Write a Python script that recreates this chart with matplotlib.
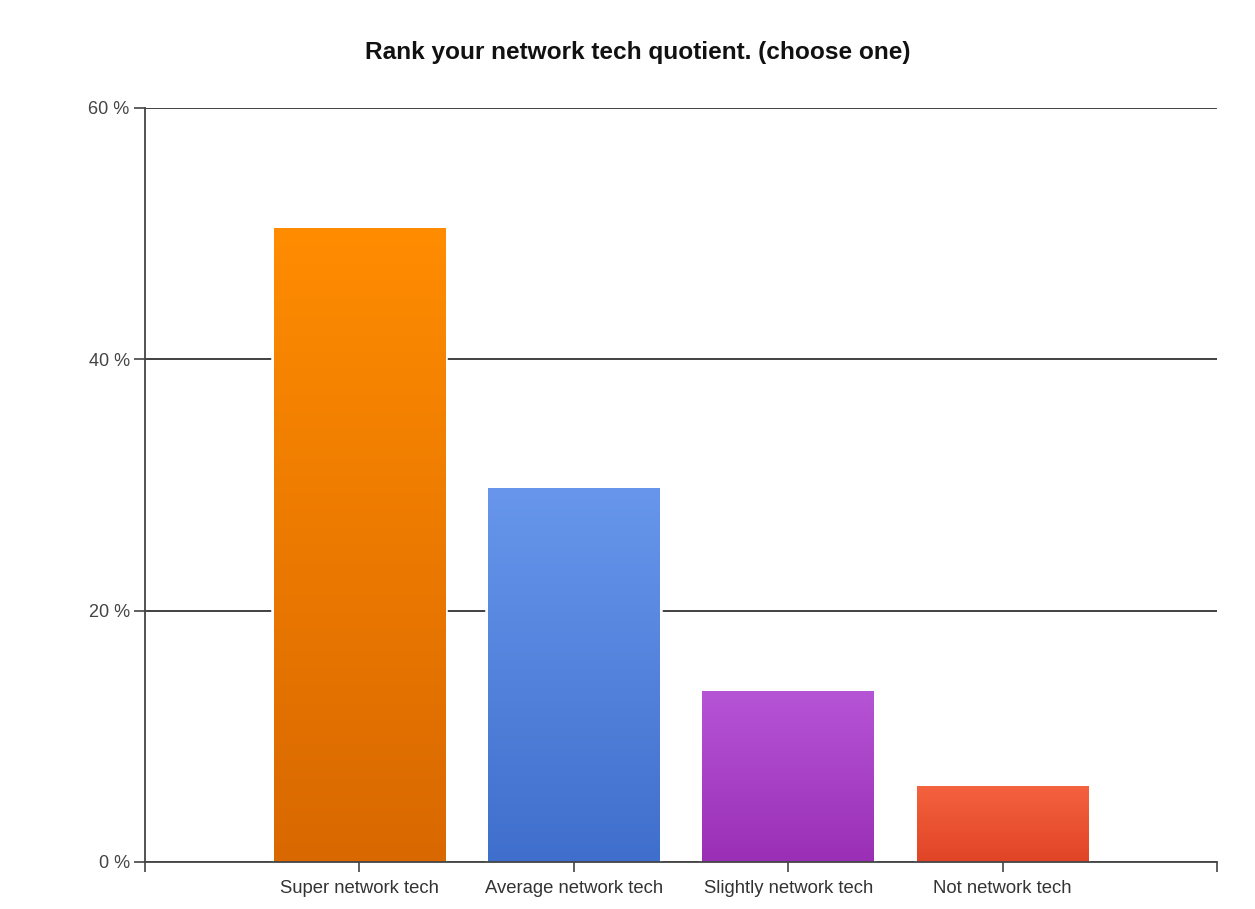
import numpy as np
import matplotlib
matplotlib.use("Agg")
import matplotlib.pyplot as plt
from matplotlib.colors import LinearSegmentedColormap

categories = ["Super network tech", "Average network tech", "Slightly network tech", "Not network tech"]
values = [50.4, 29.7, 13.6, 6.0]
top_colors = ["#FF8C00", "#6796EC", "#B654D6", "#F5623F"]
bottom_colors = ["#D96800", "#3F6FCC", "#9A2FB5", "#E04426"]
yticks = [0, 20, 40, 60]
ytick_labels = ["0 %", "20 %", "40 %", "60 %"]
title = "Rank your network tech quotient. (choose one)"

plt.rcParams['font.family'] = ['Liberation Sans', 'DejaVu Sans']

W, H = 1255, 909
fig = plt.figure(figsize=(W / 100, H / 100), dpi=100)
ax = fig.add_axes([145 / W, (H - 862) / H, (1217 - 145) / W, (862 - 108) / H])

x = np.arange(len(categories))
width = 0.8
bars = ax.bar(x, values, width=width, facecolor='none', edgecolor='white', linewidth=4, zorder=3)
for b, tc, bc in zip(bars, top_colors, bottom_colors):
    cmap = LinearSegmentedColormap.from_list("g", [bc, tc])
    grad = np.linspace(0, 1, 256).reshape(-1, 1)
    x0, y0 = b.get_x(), b.get_y()
    ax.imshow(grad, cmap=cmap, origin='lower', aspect='auto',
              extent=[x0, x0 + b.get_width(), y0, y0 + b.get_height()], zorder=4)

ax.set_xlim(-1, 4)
ax.set_ylim(0, 60)
ax.set_yticks(yticks)
ax.set_yticklabels(ytick_labels)
ax.set_xticks(x)
ax.set_xticklabels(categories)
ax.set_xticks([-1, 4], minor=True)
ax.tick_params(axis='x', which='both', direction='out', length=7, width=1.2, color='#444444',
               labelsize=13.3, labelcolor='#333333', pad=6)
ax.tick_params(axis='y', direction='out', length=8, width=1.2, color='#444444',
               labelsize=13, labelcolor='#444444', pad=3)

ax.grid(axis='y', color='#333333', linewidth=1.3, zorder=1)
ax.set_axisbelow(True)
for s in ['top', 'right']:
    ax.spines[s].set_visible(False)
for s in ['left', 'bottom']:
    ax.spines[s].set_color('#444444')
    ax.spines[s].set_linewidth(1.3)
    ax.spines[s].set_zorder(5)

fig.text(638 / W, 1 - 53 / H, title, ha='center', va='center', fontsize=17.6,
         fontweight='bold', color='#111111')

fig.savefig("out.png", dpi=100, facecolor='white')
